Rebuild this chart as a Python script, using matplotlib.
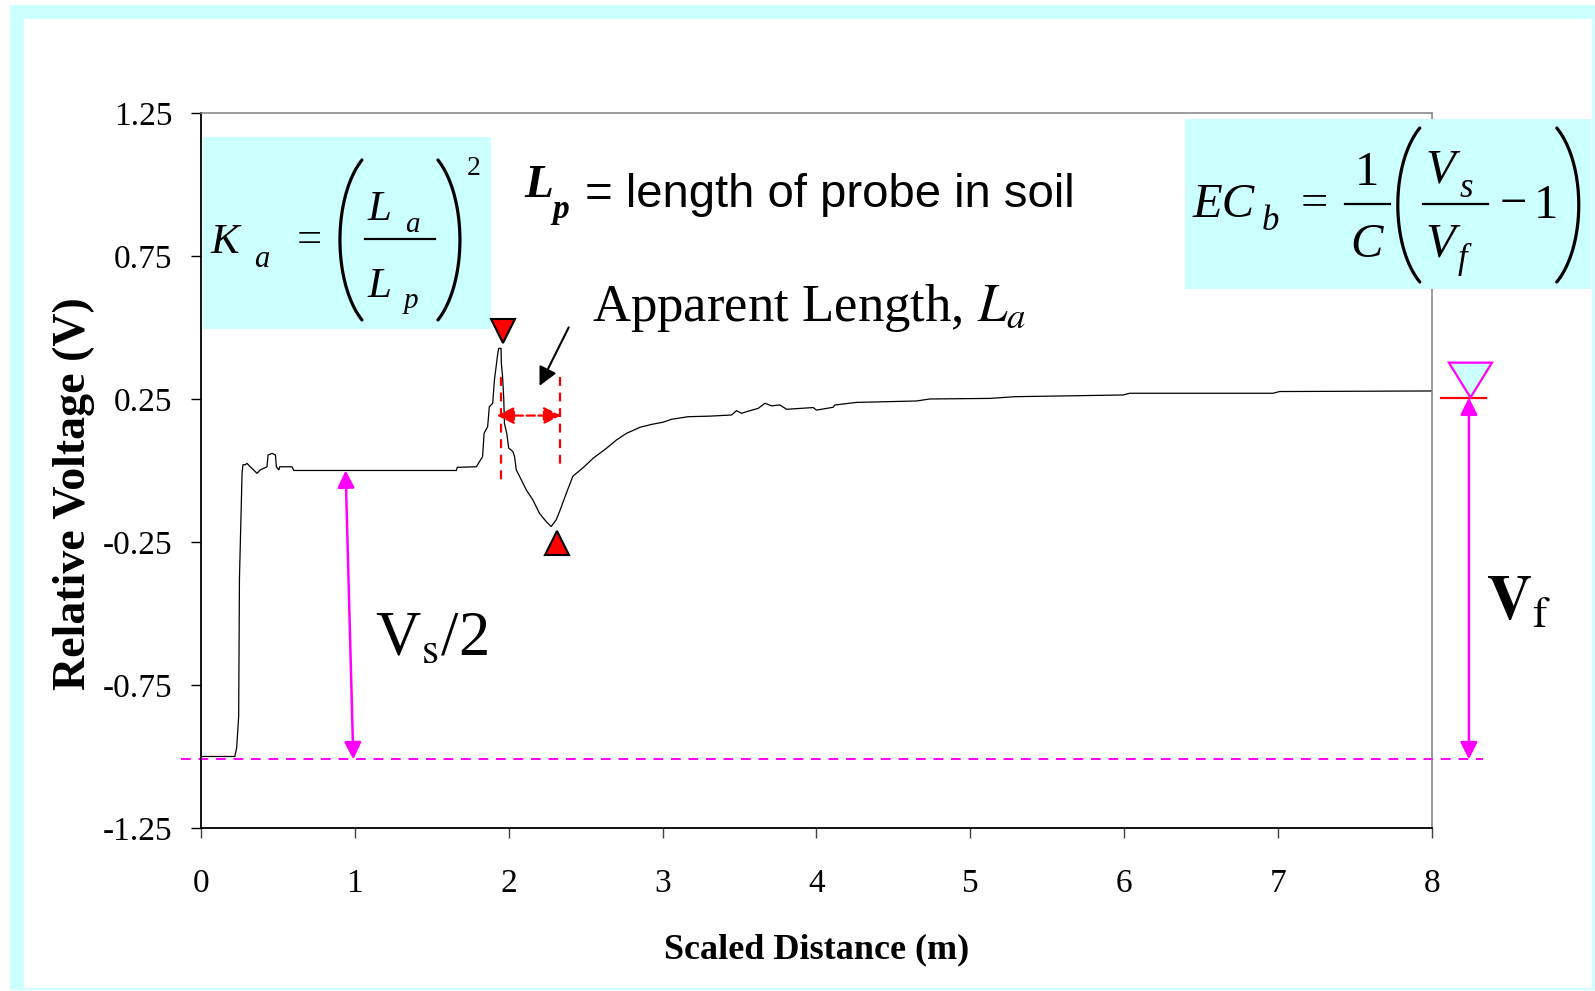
import numpy as np
import matplotlib
matplotlib.use('Agg')
import matplotlib.pyplot as plt
from matplotlib.patches import Rectangle, Polygon

plt.rcParams['font.family'] = ['Liberation Serif', 'DejaVu Serif']
plt.rcParams['mathtext.fontset'] = 'stix'
plt.rcParams['axes.unicode_minus'] = False

# TDR waveform
dist = [0.0, 0.22, 0.232, 0.245, 0.25, 0.267, 0.273, 0.288, 0.299, 0.32, 0.342, 0.364,
        0.386, 0.429, 0.436, 0.462, 0.484, 0.49, 0.506, 0.512, 0.592, 0.603, 1.66, 1.665,
        1.79, 1.81, 1.83, 1.84, 1.863, 1.874, 1.896, 1.907, 1.918, 1.929, 1.935, 1.95,
        1.952, 1.96, 1.968, 1.972, 1.987, 2.0, 2.027, 2.038, 2.049, 2.07, 2.114, 2.157,
        2.2, 2.244, 2.276, 2.308, 2.33, 2.374, 2.417, 2.484, 2.549, 2.636, 2.701, 2.766,
        2.853, 2.928, 3.004, 3.058, 3.166, 3.307, 3.448, 3.48, 3.513, 3.567, 3.621, 3.665,
        3.708, 3.762, 3.806, 3.979, 4.0, 4.108, 4.12, 4.26, 4.65, 4.737, 5.127, 5.289,
        5.993, 6.036, 6.967, 7.01, 8.0]
volt = [-1.0, -1.0, -0.97, -0.86, -0.38, -0.01, 0.02, 0.02, 0.025, 0.013, 0.002, -0.01,
        0.002, 0.013, 0.054, 0.06, 0.054, 0.013, 0.002, 0.013, 0.013, 0.0, 0.0, 0.011,
        0.013, 0.031, 0.048, 0.13, 0.153, 0.223, 0.235, 0.316, 0.363, 0.41, 0.427, 0.427,
        0.375, 0.328, 0.247, 0.165, 0.13, 0.078, 0.066, 0.048, 0.002, -0.02, -0.068, -0.103,
        -0.15, -0.179, -0.196, -0.173, -0.144, -0.08, -0.02, 0.01, 0.043, 0.078, 0.107, 0.13,
        0.151, 0.161, 0.169, 0.179, 0.188, 0.19, 0.194, 0.209, 0.2, 0.209, 0.217, 0.235,
        0.226, 0.229, 0.214, 0.22, 0.211, 0.221, 0.229, 0.238, 0.243, 0.25, 0.252, 0.258,
        0.264, 0.27, 0.27, 0.276, 0.278]

xticks = [0, 1, 2, 3, 4, 5, 6, 7, 8]
yticks = [-1.25, -0.75, -0.25, 0.25, 0.75, 1.25]
ytick_labels = ['-1.25', '-0.75', '-0.25', '0.25', '0.75', '1.25']

# annotation levels
base_level = -1.01    # magenta dashed reference
vf_level = 0.255      # final voltage level
peak_x, peak_y = 1.96, 0.488
trough_x, trough_y = 2.316, -0.253
start_x, end_x = 1.947, 2.333

cyan = '#CCFFFF'
magenta = '#FF00FF'

fig = plt.figure(figsize=(15.95, 9.91), dpi=100)
fig.patch.set_facecolor('white')
fig.add_artist(Rectangle((0.0063, 0.001), 0.9937, 0.994, transform=fig.transFigure,
                         facecolor=cyan, edgecolor='none', zorder=-2))
fig.add_artist(Rectangle((0.0150, 0.003), 0.9830, 0.978, transform=fig.transFigure,
                         facecolor='white', edgecolor='none', zorder=-1))

ax = fig.add_axes([0.126, 0.1645, 0.7718, 0.7215])
ax.plot(dist, volt, color='black', lw=0.9)

ax.set_xlim(0, 8)
ax.set_ylim(-1.25, 1.25)
ax.set_xticks(xticks)
ax.set_xticklabels([str(t) for t in xticks])
ax.set_yticks(yticks)
ax.set_yticklabels(ytick_labels)
ax.tick_params(axis='x', direction='out', length=7.5, width=1, pad=22, labelsize=24, color='#404040')
ax.tick_params(axis='y', direction='out', length=7.5, width=1, pad=13, labelsize=24)
for s in ['left', 'bottom']:
    ax.spines[s].set_color('black')
    ax.spines[s].set_linewidth(1.3)
for s in ['top', 'right']:
    ax.spines[s].set_color('#808080')
    ax.spines[s].set_linewidth(1.1)

ax.set_xlabel('Scaled Distance (m)', fontsize=26, fontweight='bold')
ax.xaxis.set_label_coords(0.5, -0.148)
ax.set_ylabel('Relative Voltage (V)', fontsize=33, fontweight='bold')
ax.yaxis.set_label_coords(-0.086, 0.467)


# helpers for placing formula pieces by pixel position (full-size picture)
def X(px):
    return (px - 201) / 153.9


def Y(py):
    return 1.25 - (py - 113) / 286.0


def put(s, px, py, size, ha='left', style='normal'):
    ax.text(X(px), Y(py), s, fontsize=size, fontstyle=style, ha=ha, va='baseline',
            zorder=5, clip_on=False)


def bar(x0, x1, py):
    ax.plot([X(x0), X(x1)], [Y(py), Y(py)], color='black', lw=1.6, zorder=5, clip_on=False)


def paren(x0, x1, y0, y1, left=True):
    th = np.radians(58)
    t = np.linspace(-th, th, 40)
    bulge = (np.cos(t) - np.cos(th)) / (1 - np.cos(th))
    xs = x1 - (x1 - x0) * bulge if left else x0 + (x1 - x0) * bulge
    ys = (y0 + y1) / 2 - (y1 - y0) / 2 * np.sin(t) / np.sin(th)
    ax.plot(X(xs), Y(ys), color='black', lw=2.3, zorder=5, clip_on=False,
            solid_capstyle='round')


# K_a box
ax.add_patch(Rectangle((0.01, Y(329)), X(491) - 0.01, Y(137) - Y(329), facecolor=cyan,
                       edgecolor='none', clip_on=False, zorder=3))
put('K', 211, 253, 31, style='italic')
put('a', 254, 267, 22, style='italic')
put('=', 309, 252, 32, ha='center')
paren(340, 362, 160, 320, left=True)
put('L', 368, 220, 31, style='italic')
put('a', 405, 232, 21, style='italic')
bar(365, 435, 239)
put('L', 368, 297, 31, style='italic')
put('p', 404, 308, 21, style='italic')
paren(438, 460, 160, 320, left=False)
put('2', 467, 175, 20)

# EC_b box
ax.add_patch(Rectangle((X(1185), Y(289)), X(1591) - X(1185), Y(119) - Y(289),
                       facecolor=cyan, edgecolor='none', clip_on=False, zorder=3))
put('EC', 1193, 217, 35, style='italic')
put('b', 1262, 230, 25, style='italic')
put('=', 1315, 216, 35, ha='center')
put('1', 1367, 185, 35, ha='center')
bar(1345, 1390, 204)
put('C', 1367, 257, 35, ha='center', style='italic')
paren(1398, 1420, 128, 282, left=True)
put('V', 1426, 183, 35, style='italic')
put('s', 1460, 197, 25, style='italic')
bar(1423, 1488, 204)
put('V', 1426, 257, 35, style='italic')
put('f', 1458, 268, 25, style='italic')
put('\u2212', 1514, 217, 35, ha='center')
put('1', 1546, 218, 35, ha='center')
paren(1557, 1579, 128, 282, left=False)

# L_p note
lt = ax.text(2.099, 0.956, 'L', fontsize=34, fontweight='bold', fontstyle='italic',
             va='baseline', ha='left')
ax.annotate('p', xy=(1.0, 0.0), xycoords=lt, xytext=(0, -8), textcoords='offset points',
            fontsize=24, fontweight='bold', fontstyle='italic', va='baseline', ha='left')
ax.annotate(' = length of probe in soil', xy=(1.0, 0.0), xycoords=lt, xytext=(14, 0),
            textcoords='offset points', fontsize=34, family='Liberation Sans',
            va='baseline', ha='left')

ax.text(2.54, 0.522, r'Apparent Length, $L_a$', fontsize=38, va='baseline', ha='left')
ax.annotate('', xy=(2.192, 0.287), xytext=(2.398, 0.509),
            arrowprops=dict(arrowstyle='-|>', color='black', lw=1.5, mutation_scale=28))

# peak / trough markers
ax.plot([peak_x], [peak_y], marker='v', ms=17, color='red', mec='black', mew=1.5,
        clip_on=False, zorder=5)
ax.plot([trough_x], [trough_y], marker='^', ms=17, color='red', mec='black', mew=1.5,
        clip_on=False, zorder=5)

# apparent length markers
ax.plot([start_x, start_x], [0.328, -0.039], color='red', lw=1.6, ls=(0, (4, 3)))
ax.plot([end_x, end_x], [0.328, 0.013], color='red', lw=1.6, ls=(0, (4, 3)))
ax.annotate('', xy=(1.923, 0.192), xytext=(2.339, 0.192),
            arrowprops=dict(arrowstyle='<|-|>', color='red', lw=1.6, ls='--',
                            mutation_scale=26, shrinkA=0, shrinkB=0))

# V_s/2 and V_f
ax.plot([-0.13, 8.33], [base_level, base_level], color=magenta, lw=1.4, ls=(0, (5, 4)),
        clip_on=False)
ax.annotate('', xy=(0.94, 0.0), xytext=(0.99, base_level),
            arrowprops=dict(arrowstyle='<|-|>', color=magenta, lw=1.8,
                            mutation_scale=26, shrinkA=0, shrinkB=0))
ax.text(1.13, -0.645, r'V$_\mathrm{s}$/2', fontsize=45, va='baseline', ha='left')

ax.annotate('', xy=(8.24, vf_level), xytext=(8.24, base_level), annotation_clip=False,
            arrowprops=dict(arrowstyle='<|-|>', color=magenta, lw=1.8,
                            mutation_scale=26, shrinkA=0, shrinkB=0))
ax.plot([8.06, 8.35], [vf_level, vf_level], color='red', lw=1.6, clip_on=False)
ax.add_patch(Polygon([[8.11, 0.377], [8.39, 0.377], [8.25, vf_level]], closed=True,
                     facecolor=cyan, edgecolor=magenta, lw=1.6, clip_on=False, zorder=4))
ax.text(8.354, -0.52, r'$\mathbf{V}_\mathrm{f}$', fontsize=45, va='baseline', ha='left')

fig.savefig('out.png', dpi=100)
